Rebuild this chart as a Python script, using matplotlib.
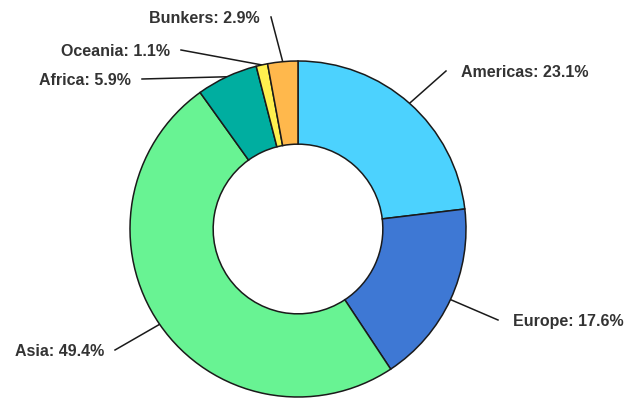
import numpy as np
import matplotlib
matplotlib.use("Agg")
from matplotlib import pyplot as plt

# Share of emissions by region (percent)
regions = ['Americas', 'Europe', 'Asia', 'Africa', 'Oceania', 'Bunkers']
shares = [23.1, 17.6, 49.4, 5.9, 1.1, 2.9]
colors = ['#4cd2fe', '#3e78d4', '#68f393', '#00aea0', '#fff04f', '#ffb84c']

# where each label sits (pixels, y measured from the top) and which side it hangs
label_pos = {'Americas': (446, 71, 'left'), 'Europe': (498, 320, 'left'),
             'Asia': (115, 350, 'right'), 'Africa': (142, 79, 'right'),
             'Oceania': (181, 50, 'right'), 'Bunkers': (271, 17, 'right')}

W, H = 625, 398
fig = plt.figure(figsize=(W / 100, H / 100), dpi=100)
ax = fig.add_axes([0, 0, 1, 1])

cx, cy, r = 298, H - 229, 168
wedges, _ = ax.pie(shares, colors=colors, startangle=90, counterclock=False,
                   center=(cx, cy), radius=r, frame=True,
                   wedgeprops=dict(width=r * 0.495, edgecolor='#1a1a1a', linewidth=1.1))
ax.set_xlim(0, W)
ax.set_ylim(0, H)
ax.set_aspect('equal')
ax.axis('off')

for w, name, val in zip(wedges, regions, shares):
    mid = np.deg2rad((w.theta1 + w.theta2) / 2)
    x0, y0 = cx + r * np.cos(mid), cy + r * np.sin(mid)
    lx, ly, side = label_pos[name]
    ly = H - ly
    ax.plot([x0, lx], [y0, ly], color='#1a1a1a', lw=1.1, zorder=0)
    tx = lx + 15 if side == 'left' else lx - 11
    ax.text(tx, ly - 1.5, f'{name}: {val}%', ha=side, va='center',
            fontsize=11.5, fontweight='bold', color='#333333',
            family=['Liberation Sans', 'DejaVu Sans'])

fig.savefig('out.png', dpi=100)
